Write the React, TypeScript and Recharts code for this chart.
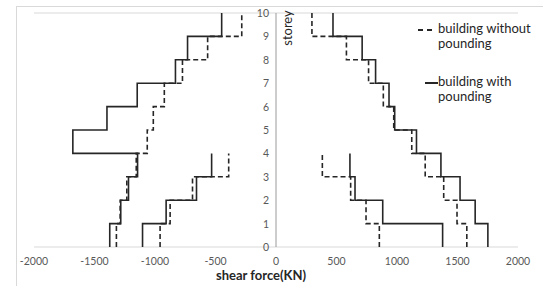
import React from 'react';
import { ScatterChart, Scatter, XAxis, YAxis, CartesianGrid, ReferenceLine } from 'recharts';

// storey levels (tick labels on the central axis)
const storeys = [0, 1, 2, 3, 4, 5, 6, 7, 8, 9, 10];
const xTicks = [-2000, -1500, -1000, -500, 0, 500, 1000, 1500, 2000];

// shear force per storey segment (index i = from storey i to i+1)
const leftOuterWith = [-1374, -1283, -1219, -1144, -1679, -1397, -1147, -831, -731, -449];
const leftOuterWithout = [-1319, -1288, -1233, -1155, -1064, -1014, -923, -773, -565, -283];
const leftInnerWith = [-1103, -908, -657, -532];
const leftInnerWithout = [-958, -875, -690, -391];
const rightInnerWith = [1377, 882, 653, 611];
const rightInnerWithout = [854, 744, 617, 383];
const rightOuterWith = [1751, 1646, 1521, 1363, 1161, 981, 934, 823, 712, 471];
const rightOuterWithout = [1577, 1496, 1386, 1233, 1122, 973, 887, 765, 582, 297];

const toSteps = (vals: number[]) => {
  const pts: { x: number; y: number }[] = [];
  vals.forEach((v, i) => {
    pts.push({ x: v, y: i });
    pts.push({ x: v, y: i + 1 });
  });
  return pts;
};

const FONT = 'Lato, "Open Sans", sans-serif';
const NoShape = () => <g />;

const StoreyLabel = (props: any) => {
  const { cx, cy, payload } = props;
  return (
    <text x={cx - 7} y={cy} textAnchor="end" dominantBaseline="central" fontSize={10.5} fill="#595959" fontFamily={FONT}>
      {payload.y}
    </text>
  );
};

const AxisCenterLabel = (props: any) => {
  const vb = props.viewBox || {};
  return (
    <text
      x={vb.x + 11}
      y={vb.y + 15}
      transform={`rotate(-90, ${vb.x + 11}, ${vb.y + 15})`}
      textAnchor="middle"
      dominantBaseline="central"
      fontSize={13}
      fill="#262626"
      fontFamily={FONT}
    >
      storey
    </text>
  );
};

const XLabel = (props: any) => {
  const vb = props.viewBox || {};
  return (
    <text
      x={vb.x + vb.width / 2 - 15}
      y={vb.y + 28}
      textAnchor="middle"
      dominantBaseline="central"
      fontSize={13}
      fontWeight="bold"
      fill="#262626"
      fontFamily={FONT}
    >
      shear force(KN)
    </text>
  );
};

const series = [
  { data: leftOuterWith, dashed: false },
  { data: leftOuterWithout, dashed: true },
  { data: leftInnerWith, dashed: false },
  { data: leftInnerWithout, dashed: true },
  { data: rightInnerWith, dashed: false },
  { data: rightInnerWithout, dashed: true },
  { data: rightOuterWith, dashed: false },
  { data: rightOuterWithout, dashed: true },
];

export default function App() {
  return (
    <div style={{ position: 'absolute', left: 0, top: 0, width: 543, height: 286, overflow: 'hidden', background: '#fff' }}>
      <div style={{ position: 'absolute', left: 16, top: 6, width: 700, height: 500, border: '1px solid #d9d9d9' }} />
      <div style={{ position: 'absolute', left: 0, top: 0 }}>
        <ScatterChart width={543} height={286} margin={{ top: 13, right: 25, left: 34, bottom: 0 }}>
          <CartesianGrid vertical={false} stroke="#d9d9d9" strokeWidth={1} />
          <XAxis
            type="number"
            dataKey="x"
            domain={[-2000, 2000]}
            ticks={xTicks}
            axisLine={false}
            tickLine={false}
            height={39}
            tickMargin={5}
            tick={{ fontSize: 10.5, fill: '#595959', fontFamily: FONT }}
            interval={0}
            label={<XLabel />}
          />
          <YAxis
            type="number"
            dataKey="y"
            domain={[0, 10]}
            ticks={storeys}
            width={0}
            tick={false}
            axisLine={false}
            tickLine={false}
          />
          <ReferenceLine x={0} stroke="#9a9a9a" strokeWidth={1} label={<AxisCenterLabel />} ifOverflow="extendDomain" />
          <Scatter
            data={storeys.map((s) => ({ x: 0, y: s }))}
            shape={<StoreyLabel />}
            isAnimationActive={false}
          />
          {series.map((s, i) => (
            <Scatter
              key={i}
              data={toSteps(s.data)}
              fill="#262626"
              shape={<NoShape />}
              line={{ stroke: '#262626', strokeWidth: 1.6, strokeDasharray: s.dashed ? '5 3' : undefined }}
              lineType="joint"
              isAnimationActive={false}
            />
          ))}
        </ScatterChart>
      </div>
      <div style={{ position: 'absolute', left: 0, top: 0, fontFamily: FONT, fontSize: 13, color: '#262626', lineHeight: '15px' }}>
        <div style={{ position: 'absolute', left: 418, top: 29, width: 5, height: 2, background: '#262626' }} />
        <div style={{ position: 'absolute', left: 427, top: 29, width: 5, height: 2, background: '#262626' }} />
        <div style={{ position: 'absolute', left: 438, top: 21, whiteSpace: 'nowrap' }}>
          building without
          <br />
          pounding
        </div>
        <div style={{ position: 'absolute', left: 425, top: 82, width: 13, height: 2, background: '#262626' }} />
        <div style={{ position: 'absolute', left: 438, top: 74, whiteSpace: 'nowrap' }}>
          building with
          <br />
          pounding
        </div>
      </div>
    </div>
  );
}
